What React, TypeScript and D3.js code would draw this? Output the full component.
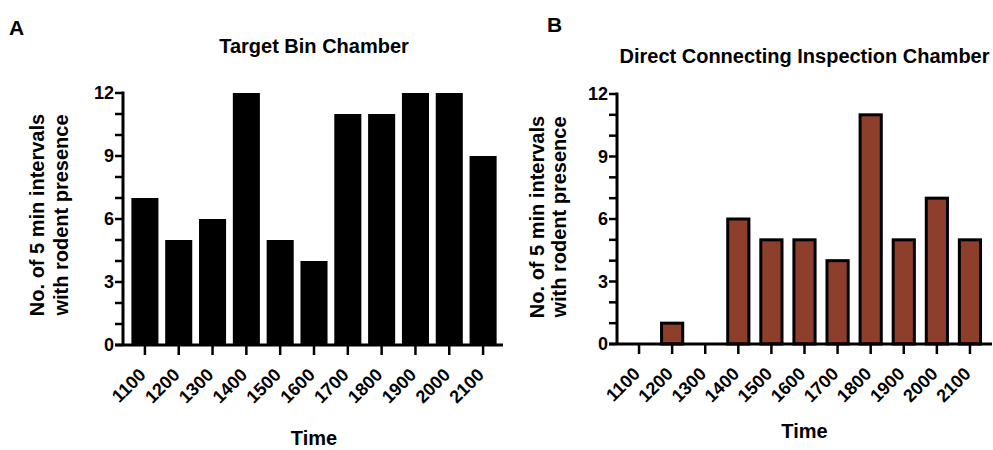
import React, { useEffect, useRef } from "react";
import * as d3 from "d3";

const times = ["1100", "1200", "1300", "1400", "1500", "1600", "1700", "1800", "1900", "2000", "2100"];
const targetBin = [7, 5, 6, 12, 5, 4, 11, 11, 12, 12, 9];
const directChamber = [0, 1, 0, 6, 5, 5, 4, 11, 5, 7, 5];
const yTicks = [0, 3, 6, 9, 12];
const yMinor = [0, 1, 2, 3, 4, 5, 6, 7, 8, 9, 10, 11, 12];

const FONT = "'Liberation Sans', Arial, sans-serif";

type Panel = {
  letter: string;
  letterX: number;
  letterY: number;
  title: string;
  titleY: number;
  values: number[];
  fill: string;
  stroke: string;
  barFrac: number;
  axisX: number;
  axisEnd: number;
  bandStart: number;
  bandEnd: number;
  y0: number;
  y12: number;
  labelX1: number;
  labelX2: number;
  labelY: number;
  timeY: number;
};

const panels: Panel[] = [
  {
    letter: "A", letterX: 9, letterY: 35,
    title: "Target Bin Chamber", titleY: 53,
    values: targetBin, fill: "#000000", stroke: "none", barFrac: 0.8,
    axisX: 123, axisEnd: 503, bandStart: 128, bandEnd: 500,
    y0: 345, y12: 93,
    labelX1: 44, labelX2: 68, labelY: 215, timeY: 445,
  },
  {
    letter: "B", letterX: 547, letterY: 32,
    title: "Direct Connecting Inspection Chamber", titleY: 63,
    values: directChamber, fill: "#8e3f2b", stroke: "#000000", barFrac: 0.64,
    axisX: 617, axisEnd: 992, bandStart: 622.5, bandEnd: 986.5,
    y0: 344, y12: 94,
    labelX1: 544, labelX2: 566, labelY: 217, timeY: 438,
  },
];

export default function App() {
  const ref = useRef<SVGSVGElement>(null);

  useEffect(() => {
    const svg = d3.select(ref.current);
    svg.selectAll("*").remove();

    panels.forEach((p) => {
      const g = svg.append("g");
      const x = d3.scaleBand<string>().domain(times).range([p.bandStart, p.bandEnd]);
      const y = d3.scaleLinear().domain([0, 12]).range([p.y0, p.y12]);
      const mid = (d: string) => x(d)! + x.bandwidth() / 2;
      const bw = x.bandwidth() * p.barFrac;
      const centre = (p.bandStart + p.bandEnd) / 2;

      // bars
      g.selectAll("rect.bar")
        .data(p.values)
        .join("rect")
        .attr("class", "bar")
        .attr("x", (d, i) => mid(times[i]) - bw / 2)
        .attr("y", (d) => y(d))
        .attr("width", bw)
        .attr("height", (d) => p.y0 - y(d))
        .attr("fill", p.fill)
        .attr("stroke", p.stroke)
        .attr("stroke-width", p.stroke === "none" ? 0 : 3);

      // y axis
      g.append("line")
        .attr("x1", p.axisX).attr("x2", p.axisX)
        .attr("y1", y(12) - 1.5).attr("y2", p.y0)
        .attr("stroke", "#000").attr("stroke-width", 3);
      g.selectAll("line.ytick")
        .data(yMinor)
        .join("line")
        .attr("class", "ytick")
        .attr("x1", p.axisX - 8).attr("x2", p.axisX)
        .attr("y1", (d) => y(d)).attr("y2", (d) => y(d))
        .attr("stroke", "#000").attr("stroke-width", 2.5);
      g.selectAll("text.ylab")
        .data(yTicks)
        .join("text")
        .attr("class", "ylab")
        .attr("x", p.axisX - 9)
        .attr("y", (d) => y(d))
        .attr("dy", "0.36em")
        .attr("text-anchor", "end")
        .style("font", `bold 18px ${FONT}`)
        .text((d) => d);

      // x axis
      g.append("line")
        .attr("x1", p.axisX - 8).attr("x2", p.axisEnd)
        .attr("y1", p.y0).attr("y2", p.y0)
        .attr("stroke", "#000").attr("stroke-width", 3);
      g.selectAll("line.xtick")
        .data(times)
        .join("line")
        .attr("class", "xtick")
        .attr("x1", (d) => mid(d))
        .attr("x2", (d) => mid(d))
        .attr("y1", p.y0).attr("y2", p.y0 + 10)
        .attr("stroke", "#000").attr("stroke-width", 2.5);
      g.selectAll("text.xlab")
        .data(times)
        .join("text")
        .attr("class", "xlab")
        .attr("transform", (d) => `translate(${mid(d) + 2},${p.y0 + 31}) rotate(-45)`)
        .attr("text-anchor", "end")
        .style("font", `bold 18px ${FONT}`)
        .text((d) => d);

      g.append("text")
        .attr("x", centre).attr("y", p.timeY)
        .attr("text-anchor", "middle")
        .style("font", `bold 20px ${FONT}`)
        .text("Time");

      // y label
      g.append("text")
        .attr("transform", `translate(${p.labelX1},${p.labelY}) rotate(-90)`)
        .attr("text-anchor", "middle")
        .style("font", `bold 20px ${FONT}`)
        .text("No. of 5 min intervals");
      g.append("text")
        .attr("transform", `translate(${p.labelX2},${p.labelY}) rotate(-90)`)
        .attr("text-anchor", "middle")
        .style("font", `bold 20px ${FONT}`)
        .text("with rodent presence");

      // title + panel letter
      g.append("text")
        .attr("x", centre).attr("y", p.titleY)
        .attr("text-anchor", "middle")
        .style("font", `bold 20px ${FONT}`)
        .text(p.title);
      g.append("text")
        .attr("x", p.letterX).attr("y", p.letterY)
        .style("font", `bold 21px ${FONT}`)
        .text(p.letter);
    });
  }, []);

  return (
    <svg ref={ref} width={993} height={450} style={{ position: "absolute", left: 0, top: 0, background: "#fff" }} />
  );
}
